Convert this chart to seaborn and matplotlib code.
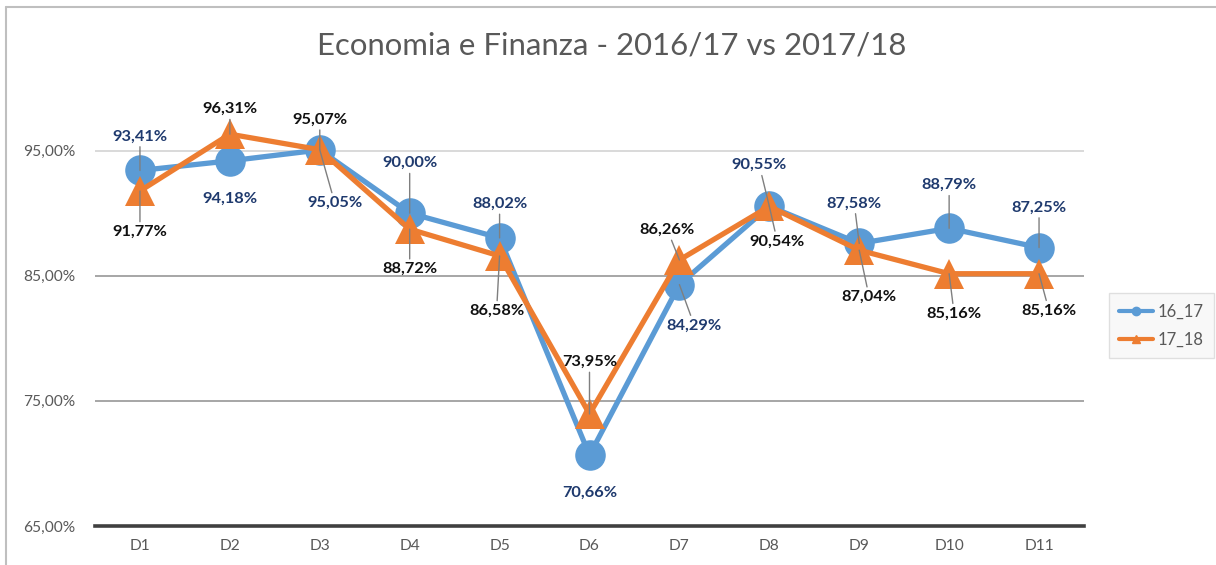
import matplotlib
matplotlib.use("Agg")
import matplotlib.pyplot as plt
from matplotlib.lines import Line2D
from matplotlib.ticker import FixedLocator, FuncFormatter
import seaborn as sns
import pandas as pd

# ---- data ----
categories = ["D1", "D2", "D3", "D4", "D5", "D6", "D7", "D8", "D9", "D10", "D11"]
series_names = ["16_17", "17_18"]
values_16_17 = [93.41, 94.18, 95.05, 90.00, 88.02, 70.66, 84.29, 90.55, 87.58, 88.79, 87.25]
values_17_18 = [91.77, 96.31, 95.07, 88.72, 86.58, 73.95, 86.26, 90.54, 87.04, 85.16, 85.16]
y_ticks = [65, 75, 85, 95]
title = "Economia e Finanza - 2016/17 vs 2017/18"

# ---- label layout (pixel offsets from point: dx, dy(up positive), leader line?) ----
layout_16_17 = [(0, 34, True), (0, -38, False), (15, -53, True), (0, 50, True), (0, 34, True),
                (0, -38, False), (15, -41, True), (-10, 41, True), (-5, 40, True), (0, 43, True), (0, 40, True)]
layout_17_18 = [(0, -41, True), (0, 25, True), (0, 30, True), (0, -40, True), (-3, -55, True),
                (0, 52, True), (-12, 30, True), (8, -35, True), (10, -47, True), (5, -40, True), (10, -37, True)]

BLUE = "#5B9BD5"
ORANGE = "#ED7D31"
GRAY_TXT = "#595959"

sns.set_theme(style="white")
plt.rcParams["font.family"] = ["Lato", "DejaVu Sans"]

df = pd.DataFrame({
    "cat": categories * 2,
    "val": values_16_17 + values_17_18,
    "serie": [series_names[0]] * len(categories) + [series_names[1]] * len(categories),
})

fig = plt.figure(figsize=(12.16, 5.65), dpi=100)
ax = fig.add_axes([95 / 1216, 39 / 565, (1084 - 95) / 1216, (526 - 88) / 565])

sns.lineplot(data=df, x="cat", y="val", hue="serie", style="serie",
             palette={series_names[0]: BLUE, series_names[1]: ORANGE},
             markers={series_names[0]: "o", series_names[1]: "^"},
             dashes=False, sort=False, markersize=22, markeredgewidth=0,
             linewidth=3.8, legend=False, ax=ax)

ax.set_xlim(-0.5, len(categories) - 0.5)
ax.set_ylim(65, 100)
ax.yaxis.set_major_locator(FixedLocator(y_ticks))
ax.yaxis.set_major_formatter(FuncFormatter(lambda v, p: f"{v:.2f}".replace(".", ",") + "%"))
ax.set_xlabel("")
ax.set_ylabel("")
ax.tick_params(axis="both", length=0, labelsize=11.2, labelcolor=GRAY_TXT)
ax.tick_params(axis="y", pad=14)
ax.tick_params(axis="x", pad=9)

for s in ["top", "right", "left"]:
    ax.spines[s].set_visible(False)
ax.spines["bottom"].set_color("#404040")
ax.spines["bottom"].set_linewidth(2.6)

ax.yaxis.grid(True)
for t, gl in zip(y_ticks, ax.get_ygridlines()):
    if t == 65:
        gl.set_visible(False)
    elif t == 95:
        gl.set_color("#D9D9D9")
        gl.set_linewidth(1.4)
    else:
        gl.set_color("#A6A6A6")
        gl.set_linewidth(1.4)

def fmt(v):
    return f"{v:.2f}".replace(".", ",") + "%"

for vals, lay, col in [(values_16_17, layout_16_17, "#1F3A6E"), (values_17_18, layout_17_18, "#111111")]:
    for i, (v, (dx, dy, lead)) in enumerate(zip(vals, lay)):
        kw = {}
        if lead:
            kw["arrowprops"] = dict(arrowstyle="-", color="#7F7F7F", lw=1.0, shrinkA=0, shrinkB=0)
        ax.annotate(fmt(v), xy=(i, v), xytext=(dx, dy), textcoords="offset pixels",
                    ha="center", va="center", fontsize=11.8, fontweight="bold",
                    color=col, zorder=6, **kw)

fig.text(612 / 1216, 1 - 46 / 565, title, ha="center", va="center",
         fontsize=22.4, color=GRAY_TXT)

handles = [Line2D([], [], color=BLUE, lw=3, marker="o", markersize=6),
           Line2D([], [], color=ORANGE, lw=3, marker="^", markersize=6)]
leg = fig.legend(handles, series_names, loc="upper left",
                 bbox_to_anchor=(1101 / 1216, 1 - 285 / 565),
                 fontsize=12, frameon=True, fancybox=False, handlelength=2.0,
                 handletextpad=0.3, labelspacing=0.75, borderpad=0.6)
leg.get_frame().set_facecolor("#F7F7F7")
leg.get_frame().set_edgecolor("#D9D9D9")
for t in leg.get_texts():
    t.set_color(GRAY_TXT)

# outer chart frame
fig.add_artist(Line2D([6 / 1216, 1], [1 - 7 / 565, 1 - 7 / 565], transform=fig.transFigure,
                      color="#BFBFBF", lw=1.5))
fig.add_artist(Line2D([6 / 1216, 6 / 1216], [0, 1 - 7 / 565], transform=fig.transFigure,
                      color="#BFBFBF", lw=1.5))

fig.savefig("out.png", dpi=100, facecolor="white")
